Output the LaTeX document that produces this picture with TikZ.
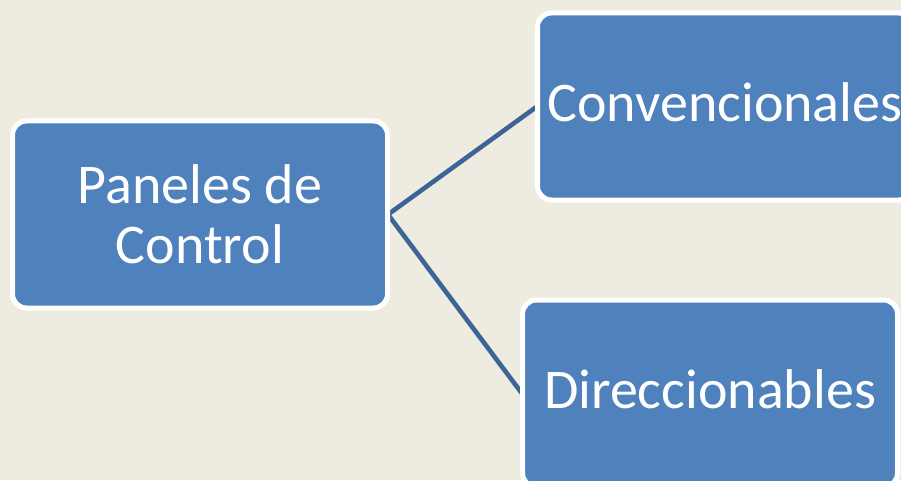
\documentclass[tikz,border=0pt]{standalone}
\usepackage{fontspec}
\setmainfont{Carlito}
\definecolor{bgc}{HTML}{EEECE1}
\definecolor{boxc}{HTML}{4F81BD}
\definecolor{linec}{HTML}{3C6496}
\pgfdeclarelayer{bgfill}
\pgfdeclarelayer{links}
\pgfsetlayers{bgfill,links,main}
\tikzset{
  panel/.style={draw=white, line width=5pt, fill=boxc, rounded corners=14pt,
    minimum width=375pt, minimum height=187pt, text=white, align=center,
    font=\fontsize{56}{60}\selectfont, inner sep=0pt},
  link/.style={draw=linec, line width=4.6pt}
}
\begin{document}
\begin{tikzpicture}[x=1pt,y=1pt]
\begin{pgfonlayer}{bgfill}
\fill[bgc] (0,0) rectangle (901,480);
\end{pgfonlayer}
\useasboundingbox (0,0) rectangle (901,480);
\node[panel] (root) at (200,265.5) {Paneles de\\Control};
\node[panel, text depth=8pt] (conv) at (725,373.5) {Convencionales};
\node[panel, text depth=8pt] (dir) at (710,86.5) {Direccionables};
\begin{pgfonlayer}{links}
\draw[link] ([xshift=-2pt]root.east) -- ([xshift=2pt]conv.west);
\draw[link] ([xshift=-2pt]root.east) -- ([xshift=2pt]dir.west);
\end{pgfonlayer}
\end{tikzpicture}
\end{document}
